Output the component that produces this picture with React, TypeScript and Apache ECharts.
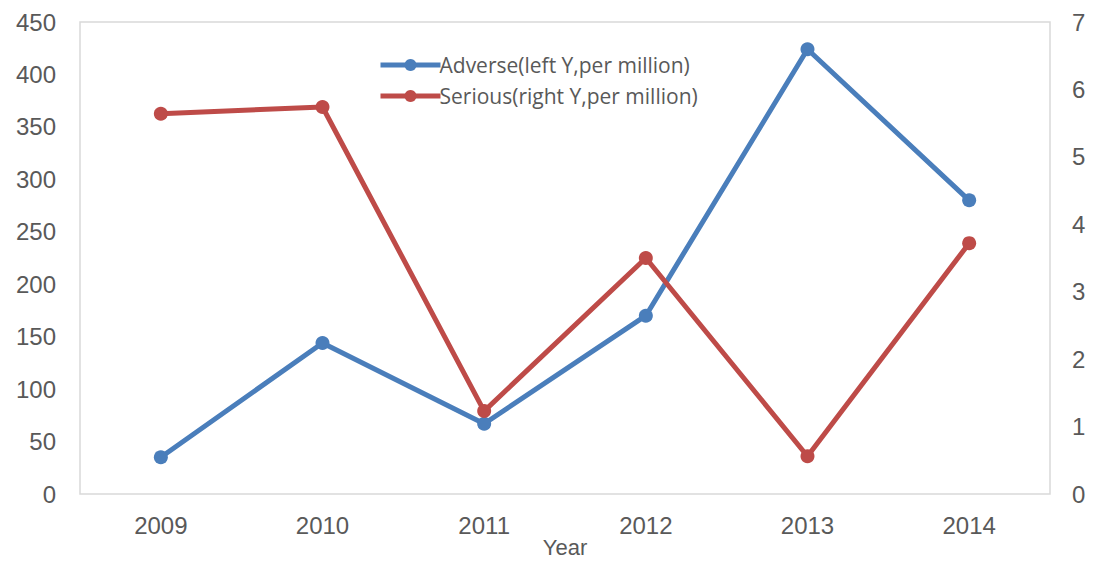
import React, { useEffect, useRef } from "react";
import * as echarts from "echarts";

const years = ["2009", "2010", "2011", "2012", "2013", "2014"];
const adverse = [35, 144, 67, 170, 424, 280];
const serious = [5.64, 5.74, 1.23, 3.5, 0.56, 3.72];

export default function App() {
  const ref = useRef<HTMLDivElement>(null);
  useEffect(() => {
    document.body.style.margin = "0";
    const chart = echarts.init(ref.current!, null, { renderer: "svg" });
    const labelStyle = { color: "#595959", fontSize: 24, fontFamily: "Liberation Sans, Arial, sans-serif" };
    chart.setOption({
      animation: false,
      grid: {
        left: 80, right: 52, top: 22, bottom: 67,
        show: true, borderColor: "#d9d9d9", borderWidth: 1.5,
        outerBoundsMode: "none", containLabel: false,
      },
      legend: {
        orient: "vertical",
        left: 373,
        top: 49,
        itemWidth: 60,
        itemHeight: 15,
        itemGap: 9,
        lineStyle: { width: 5 },
        textStyle: { color: "#595959", fontSize: 21, lineHeight: 22, fontFamily: "Open Sans, sans-serif", padding: [0, 0, 0, -6] },
        data: ["Adverse(left Y,per million)", "Serious(right Y,per million)"],
      },
      xAxis: {
        type: "category",
        data: years,
        boundaryGap: true,
        axisLine: { show: false },
        axisTick: { show: false },
        axisLabel: { ...labelStyle, margin: 19 },
        name: "Year",
        nameLocation: "middle",
        nameMoveOverlap: false,
        nameGap: 42,
        nameTextStyle: { ...labelStyle, fontSize: 22, lineHeight: 22, verticalAlign: "top" },
      },
      yAxis: [
        {
          type: "value",
          min: 0,
          max: 450,
          interval: 50,
          splitLine: { show: false },
          axisLine: { show: false },
          axisTick: { show: false },
          axisLabel: { ...labelStyle, margin: 24 },
        },
        {
          type: "value",
          min: 0,
          max: 7,
          interval: 1,
          position: "right",
          splitLine: { show: false },
          axisLine: { show: false },
          axisTick: { show: false },
          axisLabel: { ...labelStyle, margin: 22 },
        },
      ],
      series: [
        {
          name: "Adverse(left Y,per million)",
          type: "line",
          yAxisIndex: 0,
          data: adverse,
          symbol: "circle",
          symbolSize: 14,
          lineStyle: { width: 5, color: "#4a7ebb" },
          itemStyle: { color: "#4a7ebb" },
        },
        {
          name: "Serious(right Y,per million)",
          type: "line",
          yAxisIndex: 1,
          data: serious,
          symbol: "circle",
          symbolSize: 14,
          lineStyle: { width: 5, color: "#be4b48" },
          itemStyle: { color: "#be4b48" },
        },
      ],
    });
    return () => chart.dispose();
  }, []);
  return <div ref={ref} style={{ width: 1102, height: 561 }} />;
}
